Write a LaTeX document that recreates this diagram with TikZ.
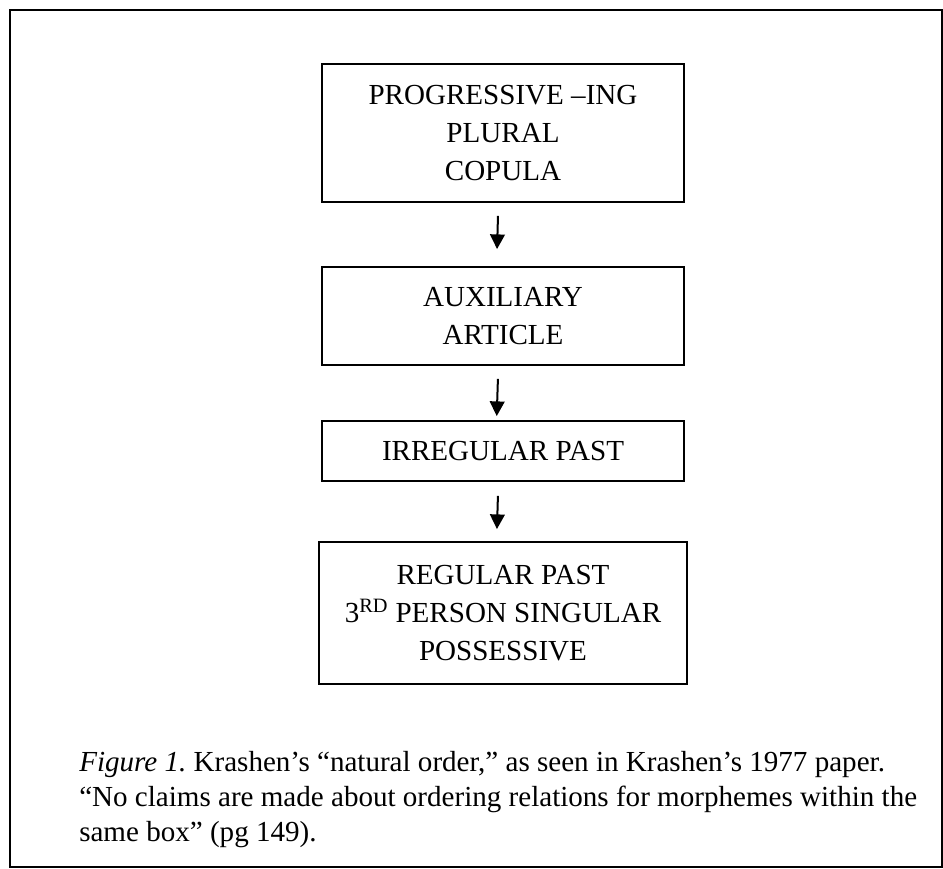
\documentclass[tikz,border=0pt]{standalone}
\usepackage{fontspec}
\setmainfont{Liberation Serif}
\usetikzlibrary{arrows.meta}
\frenchspacing
\begin{document}
\begin{tikzpicture}[x=0.75pt,y=-0.75pt,
  stagebox/.style={draw=black,line width=1.4pt,align=center,inner sep=0pt,
    font=\fontsize{21.8}{28.7}\selectfont,minimum width=271.5pt},
  arr/.style={line width=1.5pt,-{Triangle[width=11pt,length=11pt]}},
  frameline/.style={line width=1.6pt,draw=black}]
\useasboundingbox (0,0) rectangle (943,868);
\fill[white] (0,0) rectangle (943,868);
% outer frame
\draw[frameline] (10,10) rectangle (941.8,866.8);
% boxes
\node[stagebox,minimum height=103.5pt] (b1) at (503,133) {PROGRESSIVE –ING\\PLURAL\\COPULA};
\node[stagebox,minimum height=73.5pt] (b2) at (503,316) {AUXILIARY\\ARTICLE};
\node[stagebox,minimum height=45pt] (b3) at (503,451) {IRREGULAR PAST};
\node[stagebox,minimum height=106.5pt,minimum width=276pt] (b4) at (503,613) {REGULAR PAST\\3\textsuperscript{RD} PERSON SINGULAR\\POSSESSIVE};
% arrows
\draw[arr,shorten <=9.75pt,shorten >=12.75pt] ([xshift=-3.5pt]b1.south) -- ([xshift=-4.8pt]b2.north);
\draw[arr,shorten <=9.75pt,shorten >=3pt] ([xshift=-3.5pt]b2.south) -- ([xshift=-4.8pt]b3.north);
\draw[arr,shorten <=10.5pt,shorten >=9pt] ([xshift=-3.5pt]b3.south) -- ([xshift=-4.8pt]b4.north);
% caption
\node[anchor=north west,inner sep=0pt,align=left,font=\fontsize{21.8}{26.3}\selectfont] (cap) at (79,751)
 {\textit{Figure 1.} Krashen’s “natural order,” as seen in Krashen’s 1977 paper.\\
  “No claims are made about ordering relations for morphemes within the\\
  same box” (pg 149).};
\end{tikzpicture}
\end{document}
